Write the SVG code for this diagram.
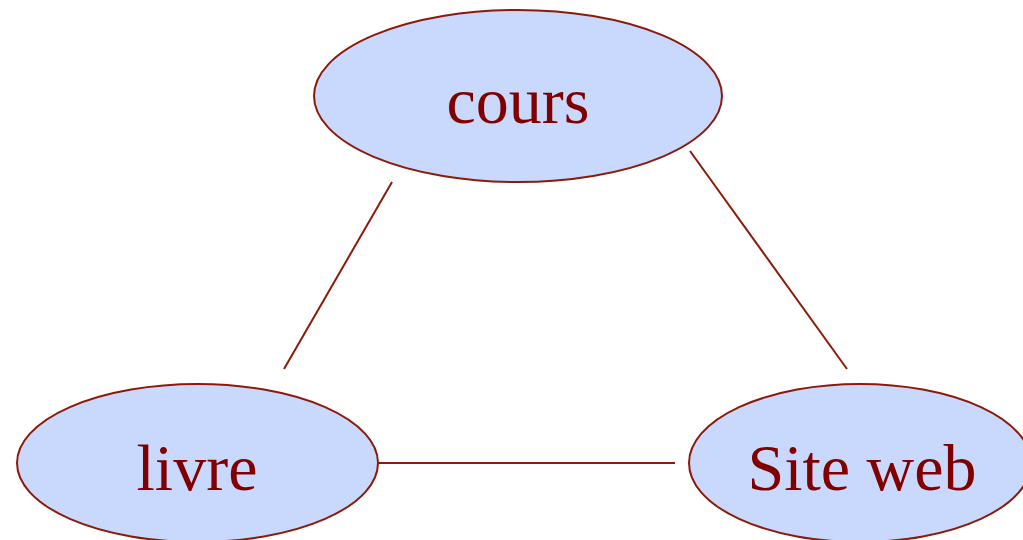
<svg xmlns="http://www.w3.org/2000/svg" width="1023" height="540" viewBox="0 0 1023 540">
<style>
.node ellipse{fill:#c9d9fd;stroke:#8b1a0a;stroke-width:2}
.node text{font-family:"Liberation Serif",serif;font-size:66px;fill:#800000;text-anchor:middle}
.edges line{stroke:#8b1a0a;stroke-width:2}
</style>
<rect width="1023" height="540" fill="#ffffff"/>
<g class="edges">
<line x1="392" y1="182" x2="284" y2="369"/>
<line x1="690" y1="151" x2="847" y2="369"/>
<line x1="378" y1="463" x2="675" y2="463"/>
</g>
<g id="cours" class="node"><ellipse cx="518" cy="96" rx="204" ry="86"/><text x="518" y="123">cours</text></g>
<g id="livre" class="node"><ellipse cx="197.5" cy="463" rx="180.5" ry="79"/><text x="197" y="490">livre</text></g>
<g id="siteweb" class="node"><ellipse cx="860" cy="463" rx="171" ry="79"/><text x="862" y="490">Site web</text></g>
</svg>
